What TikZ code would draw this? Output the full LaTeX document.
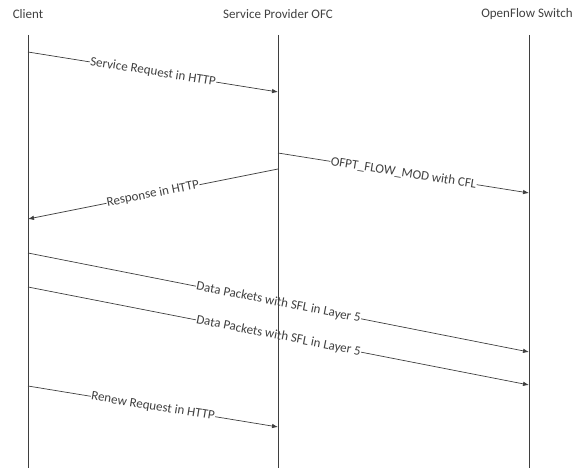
\documentclass[tikz,border=0pt]{standalone}
\usepackage{fontspec}
\setmainfont{Carlito}
\usetikzlibrary{arrows.meta}
\definecolor{lineGray}{HTML}{3F3F3F}
\definecolor{textGray}{HTML}{404040}

\begin{document}
\begin{tikzpicture}[x=1pt,y=-1pt,
  actor/.style={text=textGray,font=\fontsize{13}{15}\selectfont,inner sep=1pt},
  msg/.style={draw=lineGray,line width=.7pt,-{Latex[length=6pt,width=4.5pt]}},
  lbl/.style={sloped,fill=white,text=textGray,font=\fontsize{13}{15}\selectfont,inner sep=.5pt},
  life/.style={draw=lineGray,line width=.8pt}]
  \useasboundingbox (0,0) rectangle (582,468);
  % participants
  \node[actor] (client) at (28,14) {Client};
  \node[actor] (ofc) at (278,14) {Service Provider OFC};
  \node[actor] (sw) at (527,14) {OpenFlow Switch};
  % lifeline ends
  \coordinate (clientT) at (28,35);   \coordinate (clientB) at (28,468);
  \coordinate (ofcT) at (278,35);     \coordinate (ofcB) at (278,468);
  \coordinate (swT) at (529,35);      \coordinate (swB) at (529,468);
  % message points
  \coordinate (c1) at (28,52);  \coordinate (o1) at (278,92);
  \coordinate (o2) at (278,153); \coordinate (s2) at (529,193);
  \coordinate (o3) at (278,169); \coordinate (c3) at (28,219);
  \coordinate (c4) at (28,253); \coordinate (s4) at (529,352);
  \coordinate (c5) at (28,287); \coordinate (s5) at (529,385);
  \coordinate (c6) at (28,386); \coordinate (o6) at (278,427);
  % messages
  \draw[msg] (c1) -- node[lbl] {Service Request in HTTP} (o1);
  \draw[msg] (o2) -- node[lbl] {OFPT\_FLOW\_MOD with CFL} (s2);
  \draw[msg] (o3) -- node[lbl] {Response in HTTP} (c3);
  \draw[msg] (c4) -- node[lbl] {Data Packets with SFL in Layer 5} (s4);
  \draw[msg] (c5) -- node[lbl] {Data Packets with SFL in Layer 5} (s5);
  \draw[msg] (c6) -- node[lbl] {Renew Request in HTTP} (o6);
  % lifelines
  \draw[life] (clientT) -- (clientB);
  \draw[life] (ofcT) -- (ofcB);
  \draw[life] (swT) -- (swB);
\end{tikzpicture}
\end{document}
